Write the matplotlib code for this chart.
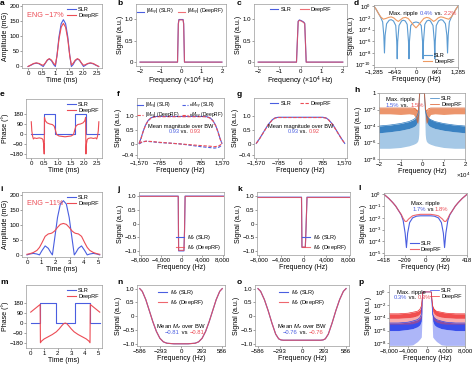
import numpy as np
import matplotlib.pyplot as plt
from matplotlib.ticker import FixedLocator, NullLocator

plt.rcParams['font.family'] = ['Liberation Sans', 'DejaVu Sans']
plt.rcParams['mathtext.fontset'] = 'custom'
plt.rcParams['mathtext.rm'] = 'Liberation Sans'
plt.rcParams['mathtext.it'] = 'Liberation Sans:italic'
plt.rcParams['axes.linewidth'] = 0.5
plt.rcParams['axes.edgecolor'] = '#9a9a9a'

SLR = '#4a5ee0'
DRF = '#ec4c55'
SLR_L = '#5b9bd2'
DRF_L = '#ee9a62'

# ---------------- data ----------------
# a: RF amplitude, 90 deg excitation
a_t = [0, 0.1, 0.2, 0.3, 0.4, 0.48, 0.55, 0.62, 0.7, 0.77, 0.85, 0.93, 0.99, 1.05, 1.12, 1.2, 1.28,
       1.36, 1.44, 1.51, 1.57, 1.63, 1.71, 1.79, 1.86, 1.94, 2.01, 2.08, 2.16, 2.26, 2.36, 2.46, 2.56]
a_slr = [0, 4, 9, 11, 9, 4, 0, 10, 21, 25, 19, 6, 0, 38, 98, 142, 155,
         142, 98, 38, 0, 6, 19, 25, 21, 10, 0, 4, 9, 11, 9, 4, 0]
a_drf = [0, 5, 10, 12, 10, 6, 4, 11, 22, 26, 21, 10, 5, 36, 90, 130, 143,
         130, 90, 36, 5, 10, 21, 26, 22, 11, 4, 6, 10, 12, 10, 5, 0]

# b, c: |Mxy| profiles (x 10^4 Hz)
b_f = [-2, -0.17, -0.13, -0.1, 0.1, 0.13, 0.17, 2]
b_slr = [0, 0, 0.9, 0.99, 0.99, 0.9, 0, 0]
b_drf = [0, 0, 0.88, 0.98, 0.98, 0.88, 0, 0]
c_f = [-2, -0.19, -0.11, -0.05, 0.05, 0.15, 0.2, 0.27, 2]
c_slr = [0, 0, 0.95, 0.98, 0.96, 0.93, 0.9, 0, 0]
c_drf = [0, 0, 0.94, 0.97, 0.95, 0.92, 0.89, 0, 0]

# d: stopband ripple (log)
d_f_slr = [-1285, -1220, -1150, -1080, -1020, -985, -965, -945, -900, -820, -760, -690, -620, -590, -575,
           -560, -520, -440, -390, -330, -270, -230, -215, -200, -160, -80, 0,
           80, 160, 200, 215, 230, 270, 330, 390, 440, 520, 560, 575, 590, 620, 690, 760, 820, 900,
           945, 965, 985, 1020, 1080, 1150, 1220, 1285]
d_slr = [1, 0.3, 0.06, 0.012, 2e-3, 1e-5, 1e-8, 1e-5, 1e-3, 4e-3, 5e-3, 3e-3, 5e-4, 1e-6, 1e-9,
         1e-6, 5e-4, 3e-3, 4e-3, 3e-3, 8e-4, 1e-6, 1e-9, 1e-6, 5e-4, 1.5e-3, 2e-3,
         1.5e-3, 5e-4, 1e-6, 1e-9, 1e-6, 8e-4, 3e-3, 4e-3, 3e-3, 5e-4, 1e-6, 1e-9, 1e-6, 5e-4, 3e-3, 5e-3, 4e-3, 1e-3,
         1e-5, 1e-8, 1e-5, 2e-3, 0.012, 0.06, 0.3, 1]
d_f_drf = [-1285, -1220, -1150, -1080, -1000, -920, -840, -760, -680, -600, -540, -470, -400, -320, -240,
           -150, -80, 0, 80, 150, 240, 320, 400, 470, 540, 600, 680, 760, 840, 920, 1000, 1080, 1150, 1220, 1285]
d_drf = [1, 0.3, 0.06, 0.015, 6e-3, 8e-3, 1.2e-2, 1.5e-2, 1e-2, 4e-3, 2.5e-3, 5e-3, 1e-2, 1.2e-2, 8e-3,
         2e-3, 6e-4, 2e-4, 6e-4, 2e-3, 8e-3, 1.2e-2, 1e-2, 5e-3, 2.5e-3, 4e-3, 1e-2, 1.5e-2, 1.2e-2, 8e-3, 6e-3,
         0.015, 0.06, 0.3, 1]

# e: RF phase, 90 deg excitation
e_t_slr = [0, 0.48, 0.48, 0.9, 0.9, 1.66, 1.66, 2.08, 2.08, 2.56]
e_slr = [0, 0, 180, 180, 0, 0, 180, 180, 0, 0]
e_t_drf = [0, 0.02, 0.05, 0.08, 0.12, 0.2, 0.3, 0.4, 0.44, 0.47, 0.49, 0.5, 0.53, 0.6, 0.7, 0.8, 0.87, 0.92,
           0.96, 1.05, 1.28, 1.51, 1.6, 1.64, 1.69, 1.76, 1.86, 1.96, 2.03, 2.06, 2.07, 2.09, 2.12, 2.16, 2.26,
           2.36, 2.44, 2.48, 2.51, 2.54, 2.56]
e_drf = [110, 30, -20, -45, -35, -40, -35, -40, -50, -90, -180, 150, 120, 100, 90, 85, 70, 30,
         -5, -18, -25, -18, -5, 30, 70, 85, 90, 100, 120, 150, -180, -90, -50, -40, -35,
         -40, -35, -45, -20, 30, 110]

# f: magnitude and phase, 90 deg excitation
f_f = [-1570, -1500, -1420, -1330, -1230, -1120, -1000, -900, 0, 900, 1000, 1120, 1230, 1330, 1420, 1500, 1570]
f_mag_slr = [0.02, 0.2, 0.45, 0.68, 0.85, 0.95, 0.99, 1.0, 1.0, 1.0, 0.99, 0.95, 0.85, 0.68, 0.45, 0.2, 0.02]
f_mag_drf = [0.02, 0.19, 0.44, 0.67, 0.84, 0.94, 0.98, 0.99, 0.99, 0.99, 0.98, 0.94, 0.84, 0.67, 0.44, 0.19, 0.02]
f_fp = [-1570, -1450, -1300, -1100, -785, -400, 0, 400, 785, 1100, 1300, 1450, 1570]
f_ph_slr = [0.0, 0.07, 0.1, 0.08, 0.05, 0.03, 0.0, -0.05, -0.1, -0.13, -0.15, -0.12, -0.05]
f_ph_drf = [0.02, 0.08, 0.1, 0.09, 0.06, 0.03, 0.0, -0.03, -0.06, -0.08, -0.1, -0.07, 0.0]

# g: magnitude, inversion / other pulse
g_f = [-1570, -1450, -1300, -1150, -1000, -900, -785, 0, 785, 900, 1000, 1150, 1300, 1450, 1570]
g_slr = [0.02, 0.2, 0.45, 0.7, 0.88, 0.95, 0.97, 0.97, 0.97, 0.95, 0.88, 0.7, 0.45, 0.2, 0.02]
g_drf = [0.02, 0.19, 0.44, 0.69, 0.87, 0.94, 0.96, 0.96, 0.96, 0.94, 0.87, 0.69, 0.44, 0.19, 0.02]

# h: ripple over wide band (log)
h_f = [-20000, -15000, -10000, -6000, -4000, -3000, -2500, -2000, -1700, -1500, -1300, -1200, -1100,
       1100, 1200, 1300, 1500, 1700, 2000, 2500, 3000, 4000, 6000, 10000, 15000, 20000]
h_slr_top = [1e-4, 1.3e-4, 2e-4, 3.5e-4, 6e-4, 9e-4, 1.3e-3, 2.5e-3, 5e-3, 1e-2, 0.1, 0.6, 1,
             1, 0.6, 0.1, 1e-2, 5e-3, 2.5e-3, 1.3e-3, 9e-4, 6e-4, 3.5e-4, 2e-4, 1.3e-4, 1e-4]
h_slr_mid = [1.5e-5, 2e-5, 3e-5, 5e-5, 8e-5, 1.2e-4, 2e-4, 4e-4, 1e-3, 3e-3, 0.05, 0.5, 1,
             1, 0.5, 0.05, 3e-3, 1e-3, 4e-4, 2e-4, 1.2e-4, 8e-5, 5e-5, 3e-5, 2e-5, 1.5e-5]
h_slr_bot = [2e-7, 2e-7, 2.5e-7, 4e-7, 6e-7, 8e-7, 1e-6, 1.5e-6, 3e-6, 1e-5, 1e-3, 0.1, 1,
             1, 0.1, 1e-3, 1e-5, 3e-6, 1.5e-6, 1e-6, 8e-7, 6e-7, 4e-7, 2.5e-7, 2e-7, 2e-7]
h_drf_top = [1.5e-2, 1.5e-2, 1.5e-2, 1.5e-2, 1.5e-2, 1.2e-2, 8e-3, 6e-3, 1e-2, 3e-2, 0.2, 0.7, 1,
             1, 0.7, 0.2, 3e-2, 1e-2, 6e-3, 8e-3, 1.2e-2, 1.5e-2, 1.5e-2, 1.5e-2, 1.5e-2, 1.5e-2]
h_drf_bot = [3e-3, 3e-3, 2.5e-3, 3e-3, 2.5e-3, 1e-3, 3e-4, 2e-4, 5e-4, 5e-3, 0.1, 0.5, 1,
             1, 0.5, 0.1, 5e-3, 5e-4, 2e-4, 3e-4, 1e-3, 2.5e-3, 3e-3, 2.5e-3, 3e-3, 3e-3]

# i: RF amplitude, 180 deg pulse
i_t = [0, 0.2, 0.45, 0.7, 0.88, 1.05, 1.28, 1.5, 1.7, 1.79, 1.95, 2.15, 2.35, 2.56,
       2.77, 2.97, 3.17, 3.33, 3.42, 3.62, 3.84, 4.07, 4.24, 4.42, 4.67, 4.92, 5.12]
i_slr = [0, 3, 5, 3, 0, 14, 30, 22, 6, 0, 55, 125, 170, 181,
         170, 125, 55, 0, 6, 22, 30, 14, 0, 3, 5, 3, 0]
i_drf = [2, 4, 8, 15, 25, 40, 62, 70, 72, 74, 80, 92, 102, 105,
         102, 92, 80, 74, 72, 70, 62, 40, 25, 15, 8, 4, 2]

# j, k: Mz profiles
j_f = [-8192, -660, -590, 450, 560, 680, 8192]
j_slr = [1, 1, -1.0, -1.0, -0.3, 1, 1]
j_drf = [0.99, 0.99, -0.98, -0.98, -0.3, 0.99, 0.99]
k_f = [-8192, -380, -300, 300, 420, 600, 8192]
k_slr = [0.96, 0.96, -0.87, -0.87, -0.2, 0.96, 0.96]
k_drf = [0.95, 0.95, -0.86, -0.86, -0.2, 0.95, 0.95]

# l: ripple (log), 180 deg pulse
l_f_slr = [-418, -370, -330, -300, -270, -245, -225, -205, -192, -180, -160, -130, -90, -50, 0,
           50, 90, 130, 160, 180, 192, 205, 225, 245, 270, 300, 330, 370, 418]
l_slr = [1, 0.45, 0.2, 0.1, 0.04, 0.018, 6e-3, 5e-4, 3e-5, 5e-4, 4e-3, 1e-2, 1.4e-2, 1.5e-2, 1.5e-2,
         1.5e-2, 1.4e-2, 1e-2, 4e-3, 5e-4, 3e-5, 5e-4, 6e-3, 0.018, 0.04, 0.1, 0.2, 0.45, 1]
l_f_drf = [-418, -370, -330, -300, -270, -245, -225, -205, -190, -170, -130, -90, -50, 0,
           50, 90, 130, 170, 190, 205, 225, 245, 270, 300, 330, 370, 418]
l_drf = [1, 0.45, 0.2, 0.1, 0.04, 0.02, 9e-3, 5e-3, 5e-3, 8e-3, 1.5e-2, 1.8e-2, 2e-2, 2e-2,
         2e-2, 1.8e-2, 1.5e-2, 8e-3, 5e-3, 5e-3, 9e-3, 0.02, 0.04, 0.1, 0.2, 0.45, 1]

# m: RF phase, 180 deg pulse
m_t_slr = [0, 0.72, 0.72, 1.84, 1.84, 3.3, 3.3, 4.42, 4.42, 5.12]
m_slr = [0, 0, 180, 180, 0, 0, 180, 180, 0, 0]
m_t_drf = [0, 0.2, 0.4, 0.6, 0.7, 0.72, 0.8, 1.0, 1.3, 1.6, 1.9, 2.1, 2.3, 2.45, 2.56,
           2.67, 2.82, 3.02, 3.22, 3.52, 3.82, 4.12, 4.32, 4.4, 4.42, 4.52, 4.72, 4.92, 5.12]
m_drf = [100, 120, 140, 160, 170, -180, -165, -145, -125, -105, -80, -55, -25, -5, 0,
         -5, -25, -55, -80, -105, -125, -145, -165, -180, 170, 160, 140, 120, 100]

# n, o: Mz over band
n_f = [-586, -550, -500, -450, -400, -350, -300, -250, -200, -100, 0, 100, 200, 250, 300, 350, 400, 450, 500, 550, 586]
n_slr = [1.0, 0.9, 0.6, 0.2, -0.2, -0.55, -0.8, -0.93, -0.98, -1.0, -1.0, -1.0, -0.98, -0.93, -0.8, -0.55, -0.2, 0.2, 0.6, 0.9, 1.0]
n_drf = [1.0, 0.9, 0.6, 0.2, -0.2, -0.55, -0.8, -0.93, -0.98, -1.0, -1.0, -1.0, -0.98, -0.93, -0.8, -0.55, -0.2, 0.2, 0.6, 0.9, 1.0]
o_f = [-586, -550, -500, -450, -400, -350, -310, -280, -250, 0, 250, 280, 310, 350, 400, 450, 500, 550, 586]
o_slr = [1.0, 0.9, 0.6, 0.2, -0.25, -0.65, -0.82, -0.86, -0.87, -0.87, -0.87, -0.86, -0.82, -0.65, -0.25, 0.2, 0.6, 0.9, 1.0]
o_drf = [1.0, 0.9, 0.6, 0.2, -0.25, -0.65, -0.82, -0.86, -0.87, -0.87, -0.87, -0.86, -0.82, -0.65, -0.25, 0.2, 0.6, 0.9, 1.0]

# p: ripple over wide band (log), 180 deg pulse
p_f = [-8000, -6000, -4000, -3000, -2000, -1500, -1200, -1000, -900,
       900, 1000, 1200, 1500, 2000, 3000, 4000, 6000, 8000]
p_slr_top = [1.5e-5, 1.5e-5, 2e-5, 3e-5, 5e-5, 1e-4, 3e-4, 5e-2, 1, 1, 5e-2, 3e-4, 1e-4, 5e-5, 3e-5, 2e-5, 1.5e-5, 1.5e-5]
p_slr_mid = [1e-6, 1e-6, 1.5e-6, 2e-6, 4e-6, 8e-6, 3e-5, 1e-2, 1, 1, 1e-2, 3e-5, 8e-6, 4e-6, 2e-6, 1.5e-6, 1e-6, 1e-6]
p_slr_bot = [5e-9, 5e-9, 5e-9, 6e-9, 2e-8, 5e-8, 1e-7, 1e-3, 1, 1, 1e-3, 1e-7, 5e-8, 2e-8, 6e-9, 5e-9, 5e-9, 5e-9]
p_drf_top = [4e-4, 4e-4, 5e-4, 7e-4, 1e-3, 2e-3, 6e-3, 0.1, 1, 1, 0.1, 6e-3, 2e-3, 1e-3, 7e-4, 5e-4, 4e-4, 4e-4]
p_drf_mid = [8e-5, 8e-5, 1e-4, 1.2e-4, 2e-4, 4e-4, 1e-3, 5e-2, 1, 1, 5e-2, 1e-3, 4e-4, 2e-4, 1.2e-4, 1e-4, 8e-5, 8e-5]
p_drf_bot = [1e-5, 1e-5, 1e-5, 1.2e-5, 2e-5, 4e-5, 1e-4, 1e-2, 1, 1, 1e-2, 1e-4, 4e-5, 2e-5, 1.2e-5, 1e-5, 1e-5, 1e-5]

# ---------------- layout ----------------
W, H = 474, 365
fig = plt.figure(figsize=(W / 100, H / 100), dpi=100)


def box(l, t, r, b):
    return fig.add_axes([l / W, 1 - b / H, (r - l) / W, (b - t) / H])


def style(ax, xl, yl):
    ax.tick_params(labelsize=4.4, length=1.2, width=0.5, pad=0.7, color='#777777')
    ax.set_xlabel(xl, fontsize=5, labelpad=0.8)
    ax.set_ylabel(yl, fontsize=5, labelpad=0.4)


def leg(ax, **kw):
    opts = dict(fontsize=4, frameon=False, handlelength=1.6, handletextpad=0.4,
                borderaxespad=0.2, labelspacing=0.1)
    opts.update(kw)
    ax.legend(**opts)


def colortext(ax, x, y, parts, fs=4.2):
    t = ax.text(x, y, parts[0][0], color=parts[0][1], fontsize=fs, transform=ax.transAxes)
    for s, c in parts[1:]:
        t = ax.annotate(s, xy=(1, 0), xycoords=t, va='bottom', color=c, fontsize=fs)


def letter(x, y, s):
    fig.text(x / W, 1 - y / H, s, fontsize=6, fontweight='bold', va='top', ha='left')


ax_a = box(22, 4, 102, 68)
ax_b = box(136, 4, 226, 66)
ax_c = box(254, 4, 347, 66)
ax_d = box(374, 5, 458, 67)
ax_e = box(26, 99, 102, 158)
ax_f = box(137, 98, 224, 158)
ax_g = box(254, 98, 347, 158)
ax_h = box(379, 93, 465, 159)
ax_i = box(22, 192, 102, 257)
ax_j = box(139, 192, 224, 255)
ax_k = box(257, 192, 350, 255)
ax_l = box(384, 193, 467, 255)
ax_m = box(26, 285, 102, 348)
ax_n = box(137, 285, 225, 346)
ax_o = box(255, 285, 349, 346)
ax_p = box(389, 285, 465, 346)

for x, y, s in [(0, 0, 'a'), (117, 0, 'b'), (237, 0, 'c'), (354, 0, 'd'),
                (0, 91, 'e'), (117, 91, 'f'), (237, 91, 'g'), (354, 87, 'h'),
                (0, 186, 'i'), (117, 186, 'j'), (237, 186, 'k'), (358, 185, 'l'),
                (0, 279, 'm'), (117, 279, 'n'), (237, 279, 'o'), (358, 279, 'p')]:
    letter(x, y, s)

mxy = r'|$M_{xy}$|'
mz = r'$M_z$'

# a
ax_a.plot(a_t, a_slr, color=SLR, lw=0.8, label='SLR')
ax_a.plot(a_t, a_drf, color=DRF, lw=0.8, label='DeepRF')
ax_a.set_xlim(-0.22, 2.68)
ax_a.set_ylim(-5, 207)
ax_a.set_xticks([0, 0.5, 1, 1.5, 2, 2.5])
ax_a.set_xticklabels(['0', '0.5', '1', '1.5', '2.0', '2.5'])
ax_a.set_yticks([0, 50, 100, 150, 200])
ax_a.text(0.06, 0.8, 'ENG −17%', color=DRF, fontsize=5.2, transform=ax_a.transAxes)
leg(ax_a, loc='upper right')
style(ax_a, 'Time (ms)', 'Amplitude (mG)')

# b
ax_b.plot(b_f, b_slr, color=SLR, lw=0.8, label=mxy + ' (SLR)')
ax_b.plot(b_f, b_drf, color=DRF, lw=0.8, alpha=0.8, label=mxy + ' (DeepRF)')
ax_b.set_xlim(-2.2, 2.2)
ax_b.set_ylim(-0.09, 1.35)
ax_b.set_xticks([-2, -1, 0, 1, 2])
ax_b.set_xticklabels(['−2', '−1', '0', '1', '2'])
ax_b.set_yticks([0, 0.5, 1.0])
ax_b.set_yticklabels(['0', '0.5', '1.0'])
leg(ax_b, fontsize=3.8, loc='upper center', ncol=2, columnspacing=0.8, handlelength=1.3)
style(ax_b, r'Frequency (×10$^4$ Hz)', 'Signal (a.u.)')

# c
ax_c.plot(c_f, c_slr, color=SLR, lw=0.8, label='SLR')
ax_c.plot(c_f, c_drf, color=DRF, lw=0.8, alpha=0.8, label='DeepRF')
ax_c.set_xlim(-2.2, 2.2)
ax_c.set_ylim(-0.09, 1.35)
ax_c.set_xticks([-2, -1, 0, 1, 2])
ax_c.set_xticklabels(['−2', '−1', '0', '1', '2'])
ax_c.set_yticks([0, 0.5, 1.0])
ax_c.set_yticklabels(['0', '0.5', '1.0'])
leg(ax_c, loc='upper center', ncol=2, columnspacing=1.5)
style(ax_c, r'Frequency (×10$^4$ Hz)', 'Signal (a.u.)')

# d
ax_d.semilogy(d_f_slr, d_slr, color=SLR_L, lw=0.8, label='SLR')
ax_d.semilogy(d_f_drf, d_drf, color=DRF_L, lw=0.8, label='DeepRF')
ax_d.set_xlim(-1285, 1285)
ax_d.set_ylim(4e-11, 1.6)
ax_d.set_xticks([-1285, -643, 0, 643, 1285])
ax_d.set_xticklabels(['−1,285', '−643', '0', '643', '1,285'])
ax_d.yaxis.set_major_locator(FixedLocator([1e-10, 1e-8, 1e-6, 1e-4, 1e-2, 1]))
ax_d.set_yticklabels(['10$^{-10}$', '10$^{-8}$', '10$^{-6}$', '10$^{-4}$', '10$^{-2}$', '10$^{0}$'])
ax_d.yaxis.set_minor_locator(NullLocator())
colortext(ax_d, 0.18, 0.84, [('Max. ripple ', 'black'), ('0.4%', SLR), (' vs. ', 'black'), ('2.2%', DRF)])
leg(ax_d, loc='lower right')
style(ax_d, 'Frequency (Hz)', 'Signal (a.u.)')

# e
ax_e.plot(e_t_slr, e_slr, color=SLR, lw=0.8, label='SLR')
ax_e.plot(e_t_drf, e_drf, color=DRF, lw=0.8, label='DeepRF')
ax_e.set_xlim(-0.2, 2.68)
ax_e.set_ylim(-216, 315)
ax_e.set_xticks([0, 0.5, 1, 1.5, 2, 2.5])
ax_e.set_xticklabels(['0', '0.5', '1.0', '1.5', '2.0', '2.5'])
ax_e.set_yticks([-180, -90, 0, 90, 180])
ax_e.set_yticklabels(['−180', '−90', '0', '90', '180'])
leg(ax_e, loc='upper right')
style(ax_e, 'Time (ms)', 'Phase (°)')

# f
ax_f.plot(f_f, f_mag_slr, color=SLR, lw=0.8, label=mxy + ' (SLR)')
ax_f.plot(f_f, f_mag_drf, color=DRF, lw=0.8, ls=(0, (3, 1.5)), label=mxy + ' (DeepRF)')
ax_f.plot(f_fp, f_ph_slr, color=SLR, lw=0.8, ls=(0, (3, 1.5)), label=r'∠$M_{xy}$ (SLR)')
ax_f.plot(f_fp, f_ph_drf, color=DRF, lw=0.8, ls=(0, (3, 1.5)), label=r'∠$M_{xy}$ (DeepRF)')
ax_f.set_xlim(-1650, 1650)
ax_f.set_ylim(-0.51, 1.67)
ax_f.set_xticks([-1570, -785, 0, 785, 1570])
ax_f.set_xticklabels(['−1,570', '−785', '0', '785', '1,570'])
ax_f.set_yticks([-0.4, 0, 0.5, 1.0])
ax_f.set_yticklabels(['−0.4', '0', '0.5', '1.0'])
ax_f.text(0.5, 0.5, 'Mean magnitude over BW', fontsize=4.1, ha='center', transform=ax_f.transAxes)
colortext(ax_f, 0.36, 0.41, [('0.93', SLR), (' vs. ', 'black'), ('0.93', DRF)], fs=4.1)
leg(ax_f, fontsize=3.5, loc='upper center', ncol=2, columnspacing=0.5, handlelength=1.3,
    handletextpad=0.3, borderaxespad=0.1, labelspacing=0.0)
style(ax_f, 'Frequency (Hz)', 'Signal (a.u.)')

# g
ax_g.plot(g_f, g_slr, color=SLR, lw=0.8, label='SLR')
ax_g.plot(g_f, g_drf, color=DRF, lw=0.8, ls=(0, (3, 1.5)), label='DeepRF')
ax_g.set_xlim(-1650, 1650)
ax_g.set_ylim(-0.51, 1.67)
ax_g.set_xticks([-1570, -785, 0, 785, 1570])
ax_g.set_xticklabels(['−1,570', '−785', '0', '785', '1,570'])
ax_g.set_yticks([-0.4, 0, 0.5, 1.0])
ax_g.set_yticklabels(['−0.4', '0', '0.5', '1.0'])
ax_g.text(0.5, 0.5, 'Mean magnitude over BW', fontsize=4.1, ha='center', transform=ax_g.transAxes)
colortext(ax_g, 0.36, 0.41, [('0.93', SLR), (' vs. ', 'black'), ('0.92', DRF)], fs=4.1)
leg(ax_g, loc='upper center', ncol=2, columnspacing=1.5)
style(ax_g, 'Frequency (Hz)', 'Signal (a.u.)')

# h
ax_h.fill_between(h_f, h_slr_bot, h_slr_mid, color='#5b9bd2', alpha=0.55, lw=0)
ax_h.fill_between(h_f, h_slr_mid, h_slr_top, color='#2f7bbf', alpha=0.95, lw=0)
ax_h.fill_between(h_f, h_drf_bot, h_drf_top, color='#e4682e', alpha=0.7, lw=0)
ax_h.plot(h_f, h_slr_top, color='#2f7bbf', lw=0.5, label='SLR')
ax_h.plot(h_f, h_drf_top, color='#d9541e', lw=0.5, label='DeepRF')
ax_h.set_yscale('log')
ax_h.set_xlim(-20000, 20000)
ax_h.set_ylim(1e-8, 1)
ax_h.set_xticks([-20000, -10000, 0, 10000, 20000])
ax_h.set_xticklabels(['−2', '−1', '0', '1', '2'])
ax_h.text(1.07, -0.17, r'×10$^4$', fontsize=4.4, ha='right', va='top', transform=ax_h.transAxes)
ax_h.yaxis.set_major_locator(FixedLocator([1e-8, 1e-6, 1e-4, 1e-2, 1]))
ax_h.set_yticklabels(['10$^{-8}$', '10$^{-6}$', '10$^{-4}$', '10$^{-2}$', '1'])
ax_h.yaxis.set_minor_locator(NullLocator())
ax_h.text(0.08, 0.88, 'Max. ripple', fontsize=4.2, transform=ax_h.transAxes)
colortext(ax_h, 0.08, 0.79, [('1.5%', SLR), (' vs. ', 'black'), ('1.5%', DRF)])
leg(ax_h, loc='upper right')
style(ax_h, 'Frequency (Hz)', 'Signal (a.u.)')

# i
ax_i.plot(i_t, i_slr, color=SLR, lw=0.8, label='SLR')
ax_i.plot(i_t, i_drf, color=DRF, lw=0.8, label='DeepRF')
ax_i.set_xlim(-0.35, 5.28)
ax_i.set_ylim(-7, 210)
ax_i.set_xticks([0, 1, 2, 3, 4, 5])
ax_i.set_yticks([0, 50, 100, 150, 200])
ax_i.text(0.06, 0.8, 'ENG −11%', color=DRF, fontsize=5.2, transform=ax_i.transAxes)
leg(ax_i, loc='upper right')
style(ax_i, 'Time (ms)', 'Amplitude (mG)')

# j
ax_j.plot(j_f, j_slr, color=SLR, lw=0.8, label=mz + ' (SLR)')
ax_j.plot(j_f, j_drf, color=DRF, lw=0.8, alpha=0.8, label=mz + ' (DeepRF)')
ax_j.set_xlim(-8300, 8250)
ax_j.set_ylim(-1.15, 1.15)
ax_j.set_xticks([-8000, -4000, 0, 4000, 8000])
ax_j.set_xticklabels(['−8,000', '−4,000', '0', '4,000', '8,000'])
ax_j.set_yticks([-1, -0.5, 0, 0.5, 1])
ax_j.set_yticklabels(['−1.0', '−0.5', '0', '0.5', '1.0'])
leg(ax_j, loc='lower right')
style(ax_j, 'Frequency (Hz)', 'Signal (a.u.)')

# k
ax_k.plot(k_f, k_slr, color=SLR, lw=0.8, label=mz + ' (SLR)')
ax_k.plot(k_f, k_drf, color=DRF, lw=0.8, alpha=0.8, label=mz + ' (DeepRF)')
ax_k.set_xlim(-8300, 8250)
ax_k.set_ylim(-1.15, 1.15)
ax_k.set_xticks([-8000, -4000, 0, 4000, 8000])
ax_k.set_xticklabels(['−8,000', '−4,000', '0', '4,000', '8,000'])
ax_k.set_yticks([-1, -0.5, 0, 0.5, 1])
ax_k.set_yticklabels(['−1.0', '−0.5', '0', '0.5', '1.0'])
leg(ax_k, loc='lower right')
style(ax_k, 'Frequency (Hz)', 'Signal (a.u.)')

# l
ax_l.semilogy(l_f_slr, l_slr, color=SLR, lw=0.8, label='SLR')
ax_l.semilogy(l_f_drf, l_drf, color=DRF, lw=0.8, alpha=0.85, label='DeepRF')
ax_l.set_xlim(-418, 418)
ax_l.set_ylim(7e-6, 1.3)
ax_l.set_xticks([-418, -209, 0, 209, 418])
ax_l.set_xticklabels(['−418', '−209', '0', '209', '418'])
ax_l.yaxis.set_major_locator(FixedLocator([1e-5, 1e-4, 1e-3, 1e-2, 1e-1, 1]))
ax_l.set_yticklabels(['10$^{-5}$', '10$^{-4}$', '10$^{-3}$', '10$^{-2}$', '10$^{-1}$', '10$^{0}$'])
ax_l.yaxis.set_minor_locator(NullLocator())
ax_l.text(0.5, 0.8, 'Max. ripple', fontsize=4.2, ha='center', transform=ax_l.transAxes)
colortext(ax_l, 0.34, 0.71, [('1.7%', SLR), (' vs ', 'black'), ('1.8%', DRF)])
leg(ax_l, loc='lower center')
style(ax_l, 'Frequency (Hz)', 'Signal (a.u.)')

# m
ax_m.plot(m_t_slr, m_slr, color=SLR, lw=0.8, label='SLR')
ax_m.plot(m_t_drf, m_drf, color=DRF, lw=0.8, label='DeepRF')
ax_m.set_xlim(-0.35, 5.29)
ax_m.set_ylim(-228, 348)
ax_m.set_xticks([0, 1, 2, 3, 4, 5])
ax_m.set_yticks([-180, -90, 0, 90, 180])
ax_m.set_yticklabels(['−180', '−90', '0', '90', '180'])
leg(ax_m, loc='upper right')
style(ax_m, 'Time (ms)', 'Phase (°)')

# n
ax_n.plot(n_f, n_slr, color=SLR, lw=0.8, label=mz + ' (SLR)')
ax_n.plot(n_f, n_drf, color=DRF, lw=0.8, alpha=0.85, label=mz + ' (DeepRF)')
ax_n.set_xlim(-625, 625)
ax_n.set_ylim(-1.08, 1.13)
ax_n.set_xticks([-586, -293, 0, 293, 586])
ax_n.set_xticklabels(['−586', '−293', '0', '293', '586'])
ax_n.set_yticks([-1, -0.5, 0, 0.5, 1])
ax_n.set_yticklabels(['−1.0', '−0.5', '0', '0.5', '1.0'])
ax_n.text(0.5, 0.3, r'Mean $M_z$ over BW', fontsize=4.2, ha='center', transform=ax_n.transAxes)
colortext(ax_n, 0.32, 0.2, [('−0.81', SLR), (' vs ', 'black'), ('−0.81', DRF)])
leg(ax_n, loc='upper center')
style(ax_n, 'Frequency (Hz)', 'Signal (a.u.)')

# o
ax_o.plot(o_f, o_slr, color=SLR, lw=0.8, label=mz + ' (SLR)')
ax_o.plot(o_f, o_drf, color=DRF, lw=0.8, alpha=0.85, label=mz + ' (DeepRF)')
ax_o.set_xlim(-625, 625)
ax_o.set_ylim(-1.08, 1.13)
ax_o.set_xticks([-586, -293, 0, 293, 586])
ax_o.set_xticklabels(['−586', '−293', '0', '293', '586'])
ax_o.set_yticks([-1, -0.5, 0, 0.5, 1])
ax_o.set_yticklabels(['−1.0', '−0.5', '0', '0.5', '1.0'])
ax_o.text(0.5, 0.3, r'Mean $M_z$ over BW', fontsize=4.2, ha='center', transform=ax_o.transAxes)
colortext(ax_o, 0.3, 0.2, [('−0.76', SLR), (' vs. ', 'black'), ('−0.76', DRF)])
leg(ax_o, loc='upper center')
style(ax_o, 'Frequency (Hz)', 'Signal (a.u.)')

# p
ax_p.fill_between(p_f, p_slr_bot, p_slr_mid, color='#4a5ef0', alpha=0.45, lw=0)
ax_p.fill_between(p_f, p_slr_mid, p_slr_top, color='#2f45ea', alpha=0.95, lw=0)
ax_p.fill_between(p_f, p_drf_bot, p_drf_mid, color='#f04a4a', alpha=0.45, lw=0)
ax_p.fill_between(p_f, p_drf_mid, p_drf_top, color='#ee2f2f', alpha=0.85, lw=0)
ax_p.plot(p_f, p_slr_top, color='#2f45ea', lw=0.5, label='SLR')
ax_p.plot(p_f, p_drf_top, color='#ee2f2f', lw=0.5, label='DeepRF')
ax_p.set_yscale('log')
ax_p.set_xlim(-8000, 8000)
ax_p.set_ylim(4e-9, 12)
ax_p.set_xticks([-8000, -4000, 0, 4000, 8000])
ax_p.set_xticklabels(['−8,000', '−4,000', '0', '4,000', '8,000'])
ax_p.yaxis.set_major_locator(FixedLocator([1e-8, 1e-6, 1e-4, 1e-2, 1]))
ax_p.set_yticklabels(['10$^{-8}$', '10$^{-6}$', '10$^{-4}$', '10$^{-2}$', '10$^{0}$'])
ax_p.yaxis.set_minor_locator(NullLocator())
ax_p.text(0.1, 0.86, 'Max. ripple', fontsize=4.2, transform=ax_p.transAxes)
colortext(ax_p, 0.06, 0.77, [('0.3%', SLR), (' vs. ', 'black'), ('0.3%', DRF)])
leg(ax_p, loc='upper right')
style(ax_p, 'Frequency (Hz)', 'Signal (a.u.)')

fig.savefig('out.png', dpi=100)
